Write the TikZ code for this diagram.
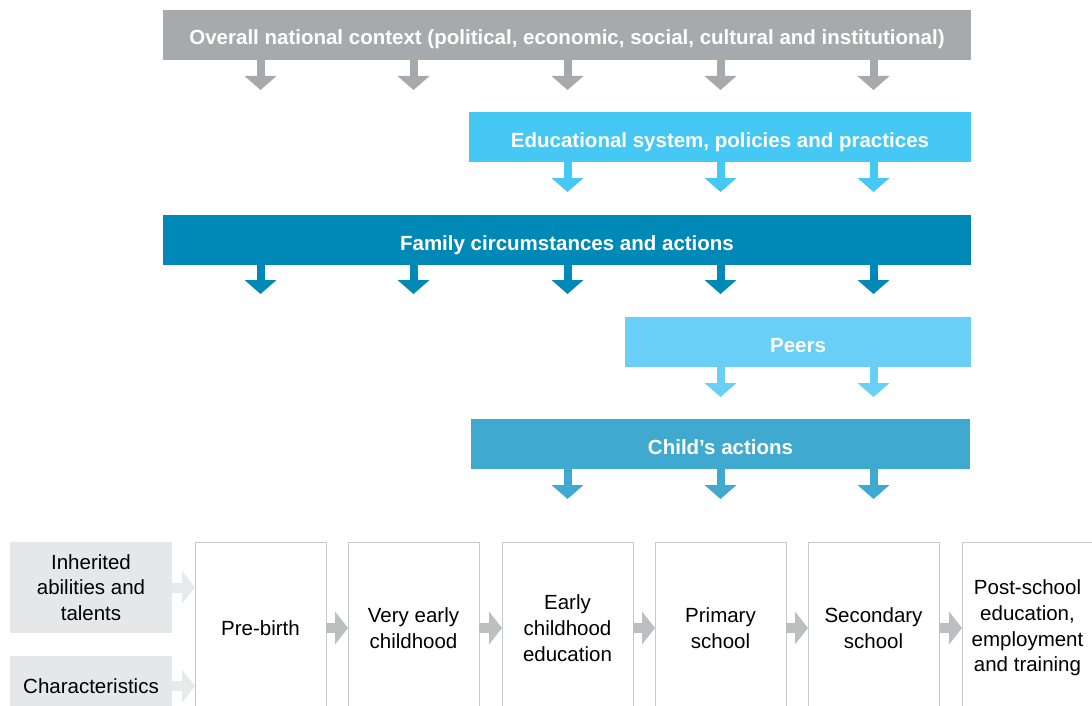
\documentclass[tikz,border=0pt]{standalone}
\usepackage{fontspec}
\setmainfont{Liberation Sans}
\usetikzlibrary{arrows.meta}

\definecolor{ctxgray}{HTML}{A7A9AC}
\definecolor{edublue}{HTML}{46C8F5}
\definecolor{famblue}{HTML}{0089B7}
\definecolor{peerblue}{HTML}{69CFF6}
\definecolor{childblue}{HTML}{40A9CF}
\definecolor{givenfill}{HTML}{E6E7E8}
\definecolor{stageline}{HTML}{C8C9CA}
\definecolor{stagearr}{HTML}{BCBEC0}
\definecolor{givenarr}{HTML}{E8E9EA}

\begin{document}
\begin{tikzpicture}[x=1pt,y=-1pt,
  bar/.style={anchor=north west, inner sep=0pt, outer sep=0pt, minimum height=50pt, text height=20pt, text depth=0pt, text=white, font=\fontsize{20.5}{24}\selectfont\bfseries},
  stage/.style={anchor=north west, draw=stageline, line width=1pt, fill=white, inner sep=0pt, outer sep=0pt, minimum width=131pt, minimum height=172pt, align=center, font=\fontsize{20.5}{25.7}\selectfont},
  given/.style={anchor=north west, fill=givenfill, inner sep=0pt, outer sep=0pt, minimum width=162pt, align=center, font=\fontsize{20.5}{25.7}\selectfont},
  downarr/.style={line width=8pt, -{Triangle[length=14pt,width=32pt,line width=0pt]}},
  sidearr/.style={line width=10pt, -{Triangle[length=13pt,width=33pt,line width=0pt]}}
]
\clip (0,0) rectangle (1092,706);
\fill[white] (0,0) rectangle (1092,706);

% stages of life
\node[stage] (pb) at (195,542) {Pre-birth};
\node[stage] (vec) at (348,542) {Very early\\childhood};
\node[stage] (ece) at (502,542) {Early\\childhood\\education};
\node[stage] (ps) at (655,542) {Primary\\school};
\node[stage] (ss) at (808,542) {Secondary\\school};
\node[stage] (pse) at (962,542) {Post-school\\education,\\employment\\and training};

\node[given, minimum height=91pt] (inh) at (10,542) {Inherited\\abilities and\\talents};
\node[given, minimum height=60pt] (chr) at (10,656) {Characteristics};

\draw[sidearr, givenarr] (inh.east) -- (inh.east -| pb.west);
\draw[sidearr, givenarr] (chr.east) -- (chr.east -| pb.west);

\draw[sidearr, stagearr] (pb.east) -- (vec.west);
\draw[sidearr, stagearr] (vec.east) -- (ece.west);
\draw[sidearr, stagearr] (ece.east) -- (ps.west);
\draw[sidearr, stagearr] (ps.east) -- (ss.west);
\draw[sidearr, stagearr] (ss.east) -- (pse.west);

% influences
\node[bar, fill=ctxgray, minimum width=808pt] (ctx) at (163,10) {Overall national context (political, economic, social, cultural and institutional)};
\node[bar, fill=edublue, minimum width=502pt] (edu) at (469,112) {Educational system, policies and practices};
\node[bar, fill=famblue, minimum width=808pt] (fam) at (163,215) {Family circumstances and actions};
\node[bar, fill=peerblue, minimum width=346pt] (peer) at (625,317) {Peers};
\node[bar, fill=childblue, minimum width=499pt] (child) at (471,419) {Child’s actions};

\foreach \s in {pb,vec,ece,ps,ss}
  \draw[downarr, ctxgray] (ctx.south -| \s.north) -- ++(0,30);
\foreach \s in {ece,ps,ss}
  \draw[downarr, edublue] (edu.south -| \s.north) -- ++(0,30);
\foreach \s in {pb,vec,ece,ps,ss}
  \draw[downarr, famblue] (fam.south -| \s.north) -- ++(0,29);
\foreach \s in {ps,ss}
  \draw[downarr, peerblue] (peer.south -| \s.north) -- ++(0,30);
\foreach \s in {ece,ps,ss}
  \draw[downarr, childblue] (child.south -| \s.north) -- ++(0,30);
\end{tikzpicture}
\end{document}
